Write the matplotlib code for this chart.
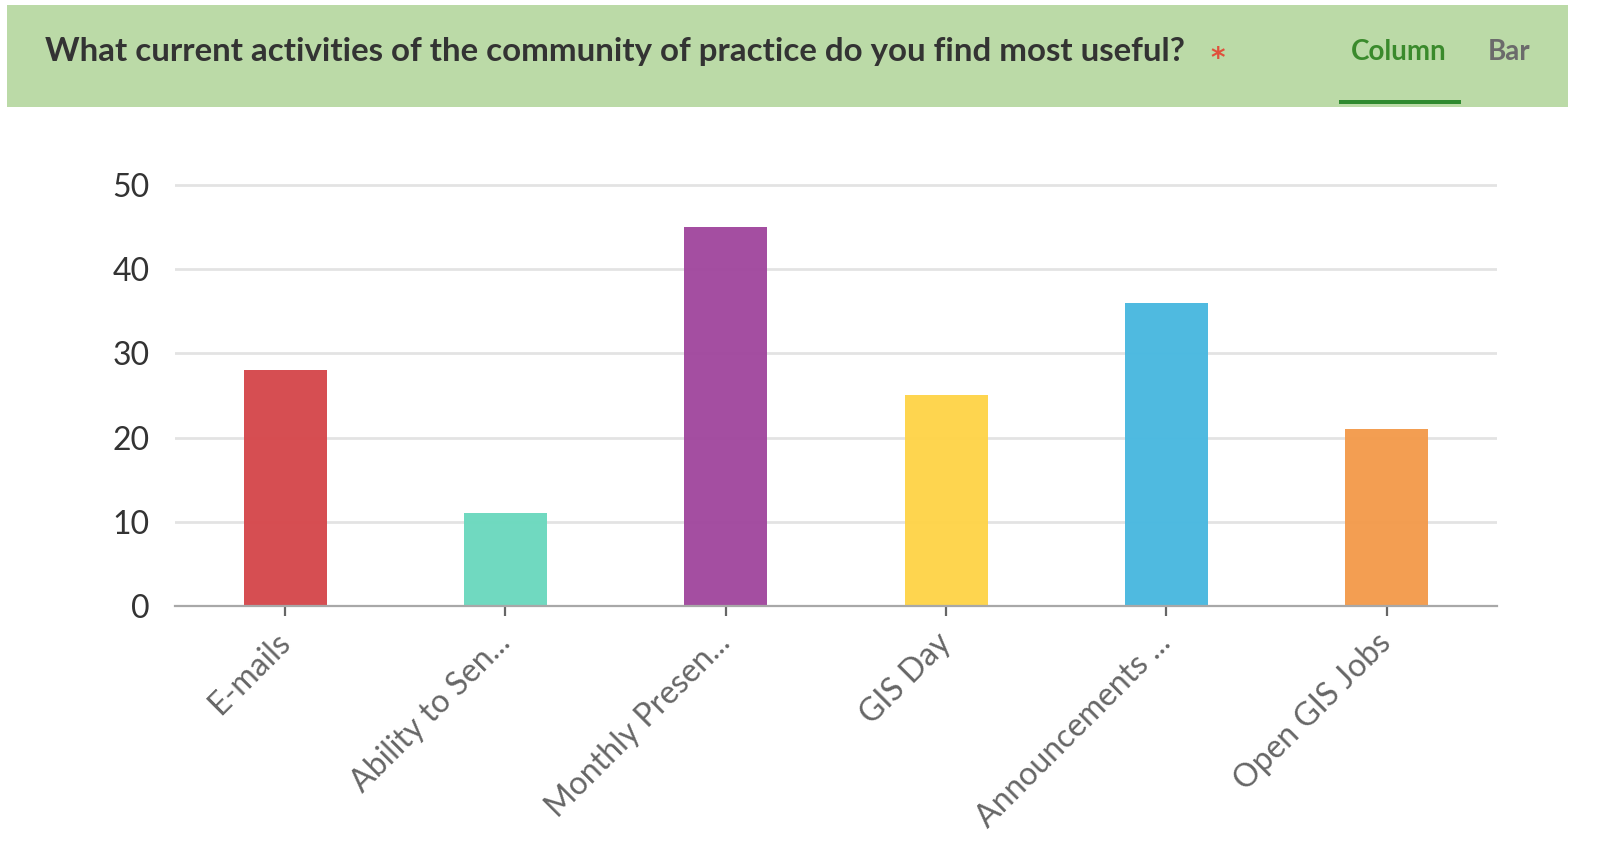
import matplotlib.pyplot as plt
import matplotlib.patches as patches

# chart data
categories = ["E-mails", "Ability to Sen...", "Monthly Presen...", "GIS Day",
              "Announcements ...", "Open GIS Jobs"]
counts = [28, 11, 45, 25, 36, 21]
bar_colors = ["#d64a4e", "#6dd9bf", "#a24a9f", "#fed44b", "#4bb9e0", "#f39c4e"]
y_ticks = [0, 10, 20, 30, 40, 50]
title = "What current activities of the community of practice do you find most useful?"

plt.rcParams['font.family'] = ['Lato', 'DejaVu Sans']

W, H = 1608, 858
fig = plt.figure(figsize=(W / 100, H / 100), dpi=100)
fig.patch.set_facecolor("white")

# header band
fig.patches.append(patches.Rectangle((7 / W, 1 - 107 / H), 1561 / W, 102 / H,
                                     transform=fig.transFigure, facecolor="#bbdaa7",
                                     edgecolor="none", zorder=0))
fig.patches.append(patches.Rectangle((1339 / W, 1 - 104 / H), 122 / W, 4 / H,
                                     transform=fig.transFigure, facecolor="#2f8a30",
                                     edgecolor="none", zorder=1))
fig.text(45 / W, 1 - 51 / H, title, fontsize=23.8, fontweight="bold", color="#333333",
         ha="left", va="center")
fig.text(1218 / W, 1 - 56 / H, "*", fontsize=20, fontweight="bold", color="#e0503c",
         family="DejaVu Sans", ha="center", va="center_baseline")
fig.text(1399 / W, 1 - 52 / H, "Column", fontsize=20, fontweight="bold", color="#3a8a2c",
         ha="center", va="center")
fig.text(1509 / W, 1 - 52 / H, "Bar", fontsize=20, fontweight="bold", color="#6b6b6b",
         ha="center", va="center")

# plot area
ymax = 52
ax_h = 421 * ymax / 50
ax = fig.add_axes([175 / W, (H - 606) / H, 1322 / W, ax_h / H])
x = list(range(len(categories)))
ax.bar(x, counts, width=0.376, color=bar_colors, alpha=0.98, zorder=3)

ax.set_xlim(-0.5, len(categories) - 0.5)
ax.set_ylim(0, ymax)
ax.set_yticks(y_ticks)
ax.set_yticklabels([str(v) for v in y_ticks])
ax.yaxis.grid(True, color="#e3e3e3", linewidth=2, zorder=0)
ax.set_axisbelow(True)
for s in ["top", "right", "left"]:
    ax.spines[s].set_visible(False)
ax.spines["bottom"].set_color("#a8a8a8")
ax.spines["bottom"].set_linewidth(1.6)
ax.spines["bottom"].set_zorder(4)

ax.tick_params(axis="y", length=0, pad=18, labelsize=23, labelcolor="#333333")
ax.tick_params(axis="x", length=7, width=1.6, color="#666666", pad=16,
               labelsize=23, labelcolor="#666666")
ax.set_xticks(x)
ax.set_xticklabels(categories, rotation=45, ha="right", va="center", rotation_mode="anchor")

fig.savefig("out.png", dpi=100)
